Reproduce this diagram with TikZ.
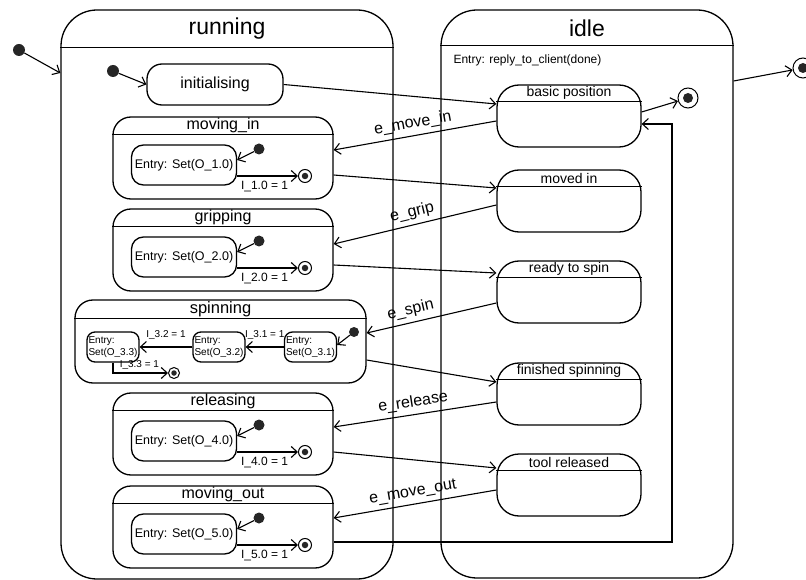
\documentclass[tikz,border=0pt]{standalone}
\usepackage{fontspec}
\setmainfont{Liberation Sans}
\usetikzlibrary{arrows.meta}
\newcommand\fnt[1]{\fontsize{#1}{#1}\selectfont}
\tikzset{
  stato/.style={draw, line width=1.3pt, inner sep=0pt},
  punto/.style={circle, fill=black!85, inner sep=0pt, minimum size=12pt},
  fine/.style={circle, draw, line width=1pt, inner sep=0pt, minimum size=#1,
    path picture={\fill[black!85] (path picture bounding box.center) circle (0.25*#1);}},
  trans/.style={->, line width=1.1pt},
  evento/.style={midway, sloped, above=1pt, font=\fnt{16}}
}
\begin{document}
\begin{tikzpicture}[x=1pt, y=-1pt, >={Straight Barb[length=6pt,width=11pt]}]
    \useasboundingbox (0,0) rectangle (806,580);
    % --- stati esterni: running e idle ---
    \node[stato, rounded corners=36pt, minimum width=332pt, minimum height=569pt] (run) at (227,294.5) {};
    \draw[line width=1.3pt] ([yshift=-38pt]run.north west) -- ([yshift=-38pt]run.north east);
    \node[font=\fnt{23}] (run-t) at (227,29) {running};
    \node[stato, rounded corners=36pt, minimum width=292pt, minimum height=568pt] (idle) at (587,294) {};
    \draw[line width=1.3pt] ([yshift=-36pt]idle.north west) -- ([yshift=-36pt]idle.north east);
    \node[font=\fnt{23}] (idle-t) at (587,28) {idle};
    \node[font=\fnt{12}, anchor=west] (idle-e) at (450,60) {Entry: reply\_to\_client(done)};
    % --- stato iniziale e finale esterni ---
    \node[punto] (start) at (19,50) {};
    \draw[trans] (start) -- ([yshift=221.5pt]run.west);
    \node[fine=20pt] (stop) at (803,68) {};
    \draw[trans] ([yshift=213pt]idle.east) -- (stop);
    % --- initialising ---
    \node[stato, rounded corners=15pt, minimum width=136pt, minimum height=41pt, font=\fnt{16}] (init) at (215,84.5) {initialising};
    \node[punto] (init-i) at (113,71) {};
    \draw[trans] (init-i) -- (init.west);
    % --- stati di idle ---
    \foreach \nome/\testo/\yy in {bp/basic position/85, mvd/moved in/170, rdy/ready to spin/261,
                                  fin/finished spinning/363, tool/tool released/454} {
        \node[stato, rounded corners=22pt, minimum width=144pt, minimum height=62pt] (\nome) at (569,{\yy+31}) {};
        \draw[line width=1.3pt] ([yshift=-17pt]\nome.north west) -- ([yshift=-17pt]\nome.north east);
        \node[font=\fnt{14}] (\nome-t) at ([yshift=-9pt]\nome.north) {\testo};
    }
    \node[fine=20pt] (bp-f) at (688,98) {};
    \draw[trans] ([yshift=4pt]bp.east) -- (bp-f);
    % --- stati composti di running ---
    \foreach \nome/\testo/\yy/\cod in {movin/moving\_in/117/1.0, grip/gripping/209/2.0,
                                       rel/releasing/393/4.0, mout/moving\_out/486/5.0} {
        \node[stato, rounded corners=18pt, minimum width=220pt, minimum height=82pt] (\nome) at (223,{\yy+41}) {};
        \draw[line width=1.3pt] ([yshift=-18pt]\nome.north west) -- ([yshift=-18pt]\nome.north east);
        \node[font=\fnt{16}] (\nome-t) at ([yshift=-9pt]\nome.north) {\testo};
        \node[stato, rounded corners=12pt, minimum width=105pt, minimum height=40pt, font=\fnt{12.5}] (\nome-e) at (184,{\yy+48}) {Entry: Set(O\_\cod)};
        \node[punto, minimum size=11pt] (\nome-i) at (259,{\yy+32}) {};
        \node[fine=13pt] (\nome-f) at (305,{\yy+59}) {};
        \draw[trans] (\nome-i) -- ([yshift=5pt]\nome-e.east);
        \draw[trans] (\nome-e.east |- \nome-f) -- (\nome-f)
            node[pos=0.45, below=1pt, font=\fnt{12}] (\nome-l) {I\_\cod{} = 1};
    }
    % --- spinning ---
    \node[stato, rounded corners=18pt, minimum width=291pt, minimum height=83pt] (spin) at (220.5,341.5) {};
    \draw[line width=1.3pt] ([yshift=-19pt]spin.north west) -- ([yshift=-19pt]spin.north east);
    \node[font=\fnt{16.5}] (spin-t) at ([yshift=-10pt]spin.north) {spinning};
    \foreach \nome/\xx/\cod in {s1/310.5/3.1, s2/219/3.2, s3/113/3.3}
        \node[stato, rounded corners=8pt, minimum width=52pt, minimum height=30pt, inner sep=1pt,
              align=left, font=\fontsize{10}{11.5}\selectfont] (\nome) at (\xx,347) {Entry:\\Set(O\_\cod)};
    \node[punto, minimum size=10pt] (spin-i) at (354,332) {};
    \node[fine=11pt] (spin-f) at (174,373) {};
    \draw[trans] (spin-i) -- ([yshift=2pt]s1.east);
    \draw[trans] (s1) -- (s2) node[midway, above=4pt, font=\fnt{10}] (s1-l) {I\_3.1 = 1};
    \draw[trans] (s2) -- (s3) node[midway, above=4pt, font=\fnt{10}] (s2-l) {I\_3.2 = 1};
    \draw[trans] (s3.south) |- (spin-f) node[pos=0.74, above=1.5pt, inner sep=1pt, font=\fnt{10}] (s3-l) {I\_3.3 = 1};
    % --- transizioni tra running e idle ---
    \draw[trans] (init.east) -- ([yshift=12pt]bp.west);
    \draw[trans] ([yshift=-5pt]bp.west) -- ([yshift=8pt]movin.east) node[evento] {e\_move\_in};
    \draw[trans] ([yshift=-17pt]movin.east) -- ([yshift=13pt]mvd.west);
    \draw[trans] ([yshift=-4pt]mvd.west) -- ([yshift=6pt]grip.east) node[evento] {e\_grip};
    \draw[trans] ([yshift=-15pt]grip.east) -- ([yshift=19pt]rdy.west);
    \draw[trans] ([yshift=-11pt]rdy.west) -- ([yshift=8.5pt]spin.east) node[evento, pos=0.64] {e\_spin};
    \draw[trans] ([yshift=-18.5pt]spin.east) -- ([yshift=12pt]fin.west);
    \draw[trans] ([yshift=-8pt]fin.west) -- ([yshift=7pt]rel.east) node[evento] {e\_release};
    \draw[trans] ([yshift=-18pt]rel.east) -- ([yshift=17pt]tool.west);
    \draw[trans] ([yshift=-5pt]tool.west) -- ([yshift=9pt]mout.east) node[evento] {e\_move\_out};
    % --- ritorno a basic position ---
    \coordinate (ret) at (672,124);
    \draw[trans] ([yshift=-15pt]mout.east) -| (ret) -- ([yshift=-8pt]bp.east);
\end{tikzpicture}
\end{document}
